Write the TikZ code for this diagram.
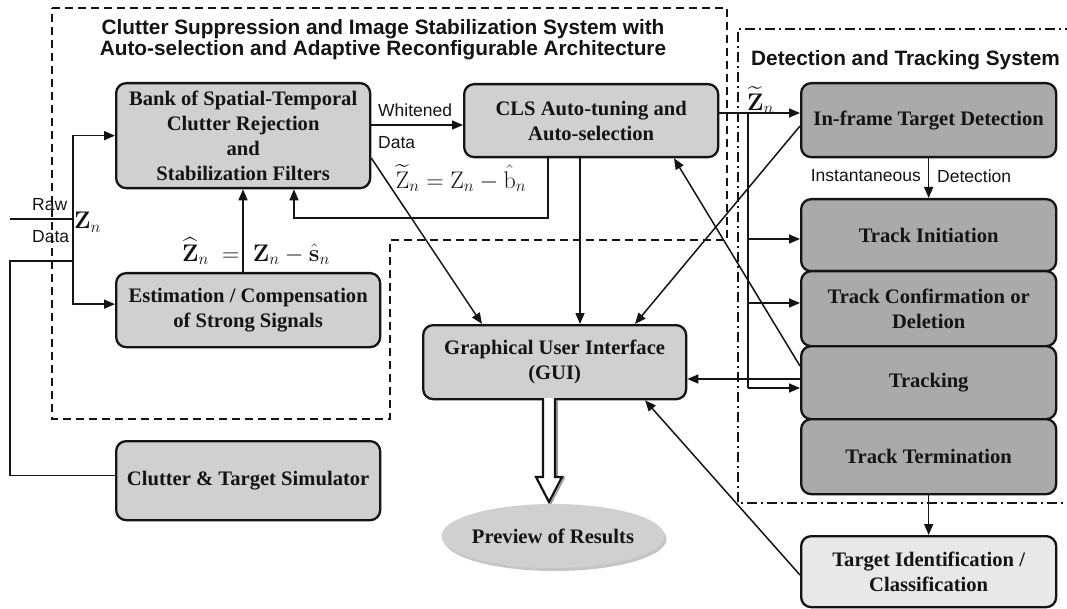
\RequirePackage{fix-cm}
\documentclass[tikz,border=0pt]{standalone}
\usepackage{amsmath}
\usepackage{graphicx}
\usepackage[no-math]{fontspec}
\setmainfont{Liberation Serif}
\newfontfamily\labelfont{Liberation Sans}
\usetikzlibrary{arrows.meta,shapes.geometric,shadows,calc}

\definecolor{boxlight}{RGB}{208,208,208}
\definecolor{boxdark}{RGB}{170,170,170}
\definecolor{boxpale}{RGB}{232,232,232}
\definecolor{ink}{RGB}{20,20,20}

\newcommand\boxfont{\bfseries\fontsize{20.6}{25}\selectfont}
\newcommand\mathlbl[1]{{\fontsize{24}{28}\selectfont$#1$}}

\tikzset{
  blk/.style={draw=ink, line width=2.3pt, rounded corners=10pt, anchor=north west,
    align=center, font=\boxfont, text=ink, inner sep=2pt},
  lightblk/.style={blk, fill=boxlight},
  darkblk/.style={blk, fill=boxdark},
  paleblk/.style={blk, fill=boxpale},
  conn/.style={line width=1.5pt, draw=ink},
  arr/.style={conn, -{Triangle[length=11pt,width=9pt]}},
  frameA/.style={line width=1.5pt, draw=ink, dash pattern=on 8pt off 5pt},
  frameB/.style={line width=1.5pt, draw=ink, dash pattern=on 10pt off 4pt on 2pt off 4pt},
  lbl/.style={font=\labelfont\fontsize{17.5}{20}\selectfont, text=ink, inner sep=0pt},
  ttl/.style={font=\labelfont\bfseries\fontsize{20.8}{21}\selectfont, text=ink,
    inner sep=0pt, align=center},
  mlbl/.style={inner sep=0pt, text=ink},
}

\begin{document}
\begin{tikzpicture}[x=1pt,y=-1pt]
\useasboundingbox (0,0) rectangle (1067,609);
\clip (0,0) rectangle (1067,609);

% ---- system frames ----
\draw[frameA] (52,8) -- (727,8) -- (727,240) -- (390,240) -- (390,419) -- (52,419) -- cycle;
\draw[frameB] (1075,29) -- (738,29) -- (738,503) -- (1075,503);

\node[ttl] (ttlA) at (383,40) {Clutter Suppression and Image Stabilization System with\\
  Auto-selection and Adaptive Reconfigurable Architecture};
\node[ttl, anchor=west] (ttlB) at (751,60) {Detection and Tracking System};

% ---- processing blocks ----
\node[lightblk, minimum width=254pt, minimum height=105pt] (bank) at (115,82)
  {Bank of Spatial-Temporal\\Clutter Rejection\\and\\Stabilization Filters};
\node[lightblk, minimum width=254pt, minimum height=73pt] (cls) at (463,83)
  {CLS Auto-tuning and\\Auto-selection};
\node[lightblk, minimum width=264pt, minimum height=74pt] (est) at (115,272)
  {Estimation / Compensation\\of Strong Signals};
\node[lightblk, minimum width=264pt, minimum height=79pt] (sim) at (115,440)
  {Clutter \& Target Simulator};
\node[lightblk, minimum width=263pt, minimum height=74pt] (gui) at (422,324)
  {Graphical User Interface\\(GUI)};

\node[darkblk, minimum width=255pt, minimum height=74pt] (inframe) at (800,82)
  {In-frame Target Detection};
\node[darkblk, minimum width=255pt, minimum height=72pt] (init) at (800,198)
  {Track Initiation};
\node[darkblk, minimum width=255pt, minimum height=75pt] (conf) at (800,270)
  {Track Confirmation or\\Deletion};
\node[darkblk, minimum width=255pt, minimum height=73pt] (track) at (800,345)
  {Tracking};
\node[darkblk, minimum width=255pt, minimum height=75pt] (term) at (800,418)
  {Track Termination};
\node[paleblk, minimum width=255pt, minimum height=71pt] (tid) at (800,535)
  {Target Identification /\\Classification};

% results ellipse: the label box is kept narrow so the outline stays at its set size
\node[ellipse, fill=boxlight, minimum width=223pt, minimum height=64pt, inner sep=0pt,
  font=\boxfont, text=ink,
  drop shadow={shadow xshift=2pt, shadow yshift=-3pt, fill=black!45}]
  (preview) at (553,536) {\makebox[110pt][c]{Preview of Results}};

% ---- labels ----
\node[lbl, anchor=west] (raw) at (32,205) {Raw};
\node[lbl, anchor=west] (rawdata) at (32,237) {Data};
\node[mlbl, anchor=west] (zn) at (74,222) {\mathlbl{\mathbf{Z}_n}};
\node[mlbl] (zhat) at (256,251) {\mathlbl{\widehat{\mathbf{Z}}_n \;=\; \mathbf{Z}_n - \hat{\mathbf{s}}_n}};
\node[mlbl] (ztil) at (461,178) {\mathlbl{\widetilde{\mathrm{Z}}_n = \mathrm{Z}_n - \hat{\mathrm{b}}_n}};
\node[mlbl, anchor=west] (ztil2) at (747,100) {\mathlbl{\widetilde{\mathbf{Z}}_n}};
\node[lbl, anchor=west] (wh) at (378,110) {Whitened};
\node[lbl, anchor=west] (whd) at (378,143) {Data};
\node[lbl, anchor=east] (inst) at (921,176) {Instantaneous};
\node[lbl, anchor=west] (instd) at (937,176) {Detection};

% ---- helper points ----
\coordinate (rawin) at (10,219);
\coordinate (tap) at (73,219);
\coordinate (simtap) at (73,261);
\coordinate (simcorner) at (10,261);
\coordinate (yW) at (0,125);
\coordinate (yZ) at (0,113);
\coordinate (bus) at (748,113);
\coordinate (fbk) at (294,218);
\coordinate (xE) at (243,0);
\coordinate (xF) at (294,0);
\coordinate (xC) at (548,0);
\coordinate (xG) at (580,0);
\coordinate (yB) at (0,158);
\coordinate (xB) at (482,0);
\coordinate (yI) at (0,126);
\coordinate (xI) at (635,0);
\coordinate (yTo) at (0,379);
\coordinate (yTi) at (0,388);
\coordinate (yTu) at (0,366);
\coordinate (xU) at (674,0);
\coordinate (yD) at (0,575);
\coordinate (xD) at (645,0);
\coordinate (yInit) at (0,239);
\coordinate (yConf) at (0,303);

% ---- input and simulator feed ----
\draw[conn] (rawin) -- (tap);
\draw[arr] (tap) |- (bank.west);
\draw[arr] (tap) |- ($(est.west)+(0,-6)$);
\draw[conn] ($(sim.west)+(0,-5)$) -| (simcorner) -- (simtap);

% ---- clutter suppression loop ----
\draw[arr] (bank.east |- yW) -- (cls.west |- yW);
\draw[arr] (est.north -| xE) -- (bank.south -| xE);
\draw[arr] (cls.south -| xC) |- (fbk) -- (bank.south -| xF);
\draw[arr] (bank.east |- yB) -- (gui.north -| xB);
\draw[arr] (cls.south -| xG) -- (gui.north -| xG);

% ---- detection and tracking ----
\draw[arr] (cls.east |- yZ) -- (inframe.west |- yZ);
\draw[conn] (bus) -- (bus |- yTi);
\draw[arr] (bus |- yInit) -- (init.west |- yInit);
\draw[arr] (bus |- yConf) -- (conf.west |- yConf);
\draw[arr] (bus |- yTi) -- (track.west |- yTi);
\draw[arr] (inframe.south) -- (init.north);
\draw[arr] (inframe.west |- yI) -- (gui.north -| xI);
\draw[arr] (track.west |- yTo) -- (gui.east |- yTo);
\draw[arr] (track.west |- yTu) -- (cls.south -| xU);
\draw[arr] (term.south) -- (tid.north);
\draw[arr] (tid.west |- yD) -- (gui.south -| xD);

% ---- output to preview (hollow arrow) ----
\coordinate (hx) at (549,398);
\draw[line width=1.6pt, draw=black!40, line join=miter]
  ($(hx)+(-4,2)$) -- ($(hx)+(-4,80)$) -- ($(hx)+(-11,80)$) -- ($(hx)+(2,105)$)
  -- ($(hx)+(15,80)$) -- ($(hx)+(8,80)$) -- ($(hx)+(8,2)$);
\draw[line width=2.2pt, draw=ink, fill=white, line join=miter]
  ($(hx)+(-6,0)$) -- ($(hx)+(-6,79)$) -- ($(hx)+(-13,79)$) -- ($(hx)+(0,104)$)
  -- ($(hx)+(13,79)$) -- ($(hx)+(6,79)$) -- ($(hx)+(6,0)$);
\end{tikzpicture}
\end{document}
